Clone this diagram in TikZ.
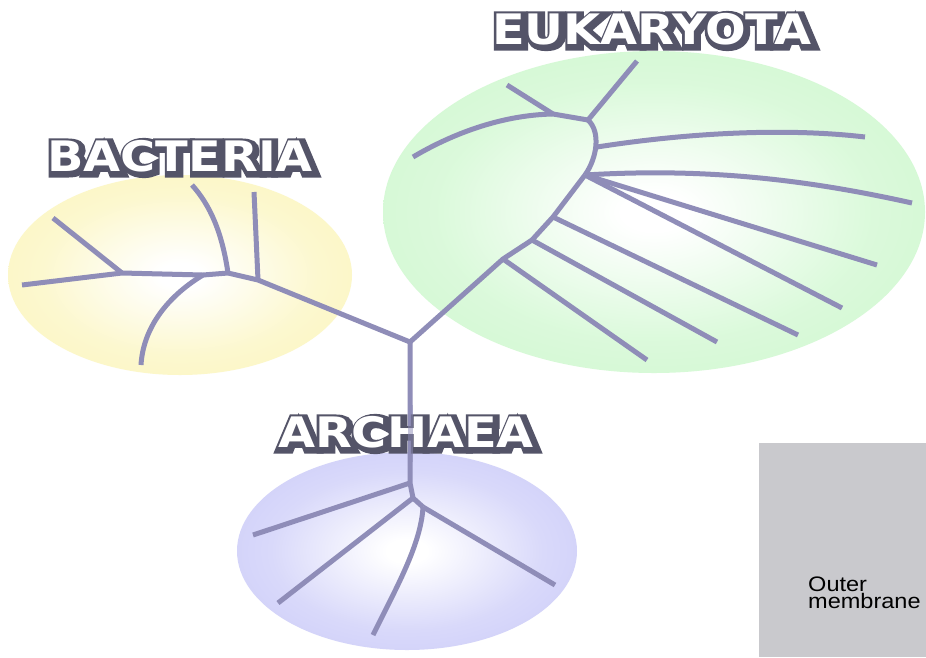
\documentclass[tikz,border=0pt]{standalone}
\usepackage{fontspec}
\setmainfont{Liberation Sans}
\newfontfamily\lblfill{DejaVu Sans Bold}
\newfontfamily\lblout{DejaVu Sans Bold}[FakeBold=20]
\usetikzlibrary{calc}
\definecolor{eukg}{RGB}{190,245,190}
\definecolor{bacy}{RGB}{250,242,168}
\definecolor{arcb}{RGB}{186,186,246}
\definecolor{treec}{RGB}{143,141,184}
\definecolor{lbld}{RGB}{84,84,104}
\definecolor{boxg}{RGB}{201,201,205}
\pgfdeclareradialshading{eukshade}{\pgfpoint{0bp}{0bp}}{color(0bp)=(white); color(3bp)=(white); color(20bp)=(eukg!55); color(50bp)=(eukg)}
\pgfdeclareradialshading{bacshade}{\pgfpoint{0bp}{0bp}}{color(0bp)=(white); color(3bp)=(white); color(20bp)=(bacy!55); color(50bp)=(bacy)}
\pgfdeclareradialshading{arcshade}{\pgfpoint{0bp}{0bp}}{color(0bp)=(white); color(3bp)=(white); color(20bp)=(arcb!55); color(50bp)=(arcb)}
\newcommand{\domainlabel}[3]{%
  \node[lbl, text=lbld] at ($(#2)+(2,2)$) {\scalebox{1.14}[1]{\lblout #3}};
  \node[lbl, text=white] (#1) at (#2) {\scalebox{1.14}[1]{\lblfill #3}};
}
\begin{document}
\begin{tikzpicture}[x=1pt,y=-1pt,
  branch/.style={draw=treec, line width=5pt, line cap=butt, line join=round},
  lbl/.style={inner sep=0pt, font=\fontsize{42}{42}\selectfont},
  boxtext/.style={align=left, anchor=north west, inner sep=0pt, font=\fontsize{21}{17}\selectfont, text=black}]
\useasboundingbox (0,0) rectangle (926,657);
\fill[white] (0,0) rectangle (926,657);

% domain ellipses
\shade[shading=eukshade] (654,212) ellipse [x radius=271, y radius=161];
\shade[shading=bacshade] (180,275) ellipse [x radius=172, y radius=100];
\shade[shading=arcshade] (407,551) ellipse [x radius=170, y radius=99];

% gray box
\fill[boxg] (759,443) rectangle (926,657);
\node[boxtext] (outer) at (808,577) {\scalebox{1.12}[1]{Outer}\\\scalebox{1.12}[1]{membrane}};

% tree coordinates
\coordinate (R) at (410,342);
% archaea
\coordinate (a1) at (410,483);
\coordinate (a2) at (413,498);
\coordinate (a3) at (423,507);
\coordinate (aL1) at (253,535);
\coordinate (aL2) at (278,603);
\coordinate (aE3) at (373,635);
\coordinate (aR) at (555,585);
\coordinate (lblT) at (410,405);
\coordinate (lblB) at (410,462);
% bacteria
\coordinate (b1) at (258,280);
\coordinate (b2) at (228,273);
\coordinate (b3) at (203,275);
\coordinate (b4) at (122,273);
\coordinate (bV) at (254,192);
\coordinate (bU) at (192,185);
\coordinate (bD) at (141,365);
\coordinate (bUL) at (53,218);
\coordinate (bL) at (22,285);
% eukaryota
\coordinate (e7) at (503,259);
\coordinate (e6) at (532,240);
\coordinate (e5) at (553,217);
\coordinate (ef) at (585,175);
\coordinate (e1) at (597,147);
\coordinate (et) at (588,120);
\coordinate (eL) at (553,114);
\coordinate (eTop) at (637,61);
\coordinate (eUL) at (507,85);
\coordinate (eLL) at (413,157);
\coordinate (eR1) at (865,137);
\coordinate (eR2) at (912,203);
\coordinate (eR3) at (877,265);
\coordinate (eR4) at (842,308);
\coordinate (eR5) at (798,335);
\coordinate (eR6) at (717,342);
\coordinate (eR7) at (647,360);

% archaea branches
\draw[branch] (R) -- (a1) -- (a2) -- (a3);
\draw[branch] (a1) -- (aL1);
\draw[branch] (a2) -- (aL2);
\draw[branch] (a3) .. controls (421,545) and (395,590) .. (aE3);
\draw[branch] (a3) -- (aR);
% bacteria branches
\draw[branch] (R) -- (b1) -- (b2) -- (b3) -- (b4) -- (bL);
\draw[branch] (b1) -- (bV);
\draw[branch] (b2) .. controls (222,232) and (210,205) .. (bU);
\draw[branch] (b3) .. controls (165,298) and (143,330) .. (bD);
\draw[branch] (b4) -- (bUL);
% eukaryota branches
\draw[branch] (R) -- (e7) -- (e6) -- (e5) -- (ef);
\draw[branch] (ef) .. controls (597,158) and (601,132) .. (et);
\draw[branch] (et) -- (eTop);
\draw[branch] (et) -- (eL) .. controls (500,115) and (450,135) .. (eLL);
\draw[branch] (eL) -- (eUL);
\draw[branch] (e1) .. controls (680,134) and (780,127) .. (eR1);
\draw[branch] (ef) .. controls (700,168) and (800,178) .. (eR2);
\draw[branch] (ef) -- (eR3);
\draw[branch] (ef) -- (eR4);
\draw[branch] (e5) -- (eR5);
\draw[branch] (e6) -- (eR6);
\draw[branch] (e7) -- (eR7);

% labels
\coordinate (pE) at (652,29);
\coordinate (pB) at (180,156);
\coordinate (pA) at (406,432);
\domainlabel{euk}{pE}{EUKARYOTA}
\domainlabel{bac}{pB}{BACTERIA}
\domainlabel{arc}{pA}{ARCHAEA}
% trunk seen through the archaea label
\draw[branch, opacity=0.5] (lblT) -- (lblB);
\end{tikzpicture}
\end{document}
